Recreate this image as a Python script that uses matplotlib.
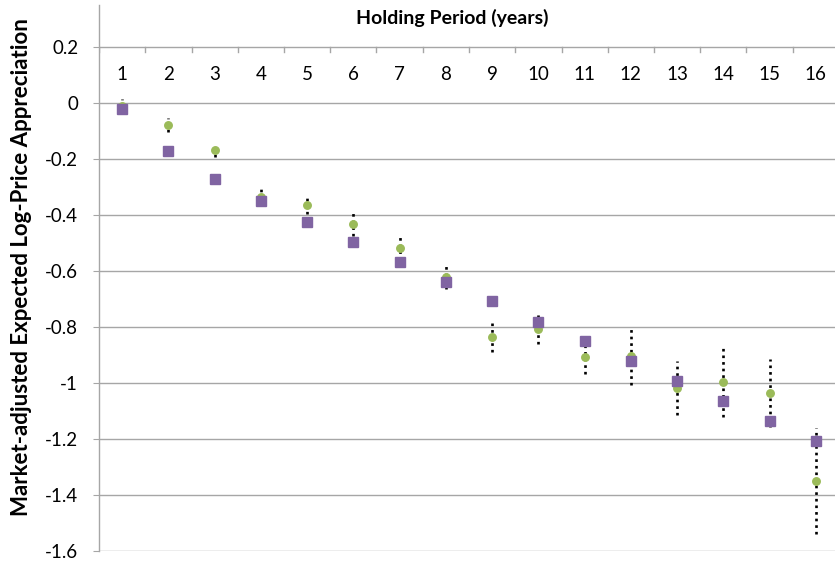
import matplotlib
matplotlib.use("Agg")
import matplotlib.pyplot as plt
import numpy as np

plt.rcParams['font.family'] = ['Lato', 'DejaVu Sans']

# Holding periods (years)
periods = list(range(1, 17))

# Point estimates (green) with error half-widths
estimate = [-0.01, -0.077, -0.169, -0.335, -0.363, -0.432, -0.519, -0.620,
            -0.837, -0.808, -0.906, -0.902, -1.017, -0.996, -1.035, -1.351]
half_width = [0.026, 0.025, 0.024, 0.029, 0.032, 0.042, 0.042, 0.043,
              0.053, 0.053, 0.063, 0.106, 0.097, 0.127, 0.121, 0.190]

# Benchmark values (purple squares)
benchmark = [-0.021, -0.170, -0.273, -0.351, -0.424, -0.495, -0.567, -0.638,
             -0.707, -0.781, -0.850, -0.921, -0.992, -1.063, -1.135, -1.206]

yticks = [0.2, 0, -0.2, -0.4, -0.6, -0.8, -1, -1.2, -1.4, -1.6]
ytick_labels = ['0.2', '0', '-0.2', '-0.4', '-0.6', '-0.8', '-1', '-1.2', '-1.4', '-1.6']

W, H = 835, 563
fig = plt.figure(figsize=(W / 100, H / 100), dpi=100)
left, right, top, bottom = 99, 839, 5, 551
ax = fig.add_axes([left / W, (H - bottom) / H, (right - left) / W, (bottom - top) / H])

ax.set_xlim(0.5, 16.5)
ax.set_ylim(-1.6, 0.35)

grid_col = '#a6a6a6'
for y in yticks:
    ax.axhline(y, color=grid_col, lw=1.0, zorder=0)

# Category axis along the 0.2 line, with tick marks between categories
px_per_unit = (bottom - top) / (0.35 + 1.6)
tick_len = 5 / px_per_unit
for b in np.arange(0.5, 16.5, 1.0):
    ax.plot([b, b], [0.2, 0.2 - tick_len], color=grid_col, lw=1.0, zorder=0)

# Dotted confidence bars
for x, m, h in zip(periods, estimate, half_width):
    ax.plot([x, x], [m - h, m + h], color='black', lw=1.9,
            linestyle=(0, (1, 1.5)), dash_capstyle='butt', zorder=2)

ax.plot(periods, estimate, linestyle='none', marker='o', ms=5.4,
        color='#9bbb59', mec='#9bbb59', zorder=3)
ax.plot(periods, benchmark, linestyle='none', marker='s', ms=7.6,
        color='#8064a2', mec='#8064a2', zorder=4)

# Category labels along the top of the plot
ax.set_xticks([])
for x in periods:
    ax.text(x, 0.1, str(x), ha='center', va='center', fontsize=13.5, color='black')
ax.text(8.13, 0.304, 'Holding Period (years)', ha='center', va='center',
        fontsize=14, fontweight='bold', color='black')

ax.set_yticks(yticks)
ax.set_yticklabels(ytick_labels, fontsize=13.5)
ax.tick_params(axis='y', length=4, color=grid_col, pad=11)

for s in ['top', 'right', 'bottom']:
    ax.spines[s].set_visible(False)
ax.spines['left'].set_color(grid_col)
ax.spines['left'].set_linewidth(1.0)

fig.text(22 / W, 1 - 267 / H, 'Market-adjusted Expected Log-Price Appreciation',
         rotation=90, ha='center', va='center', fontsize=16, fontweight='bold')

fig.savefig('out.png', dpi=100)
